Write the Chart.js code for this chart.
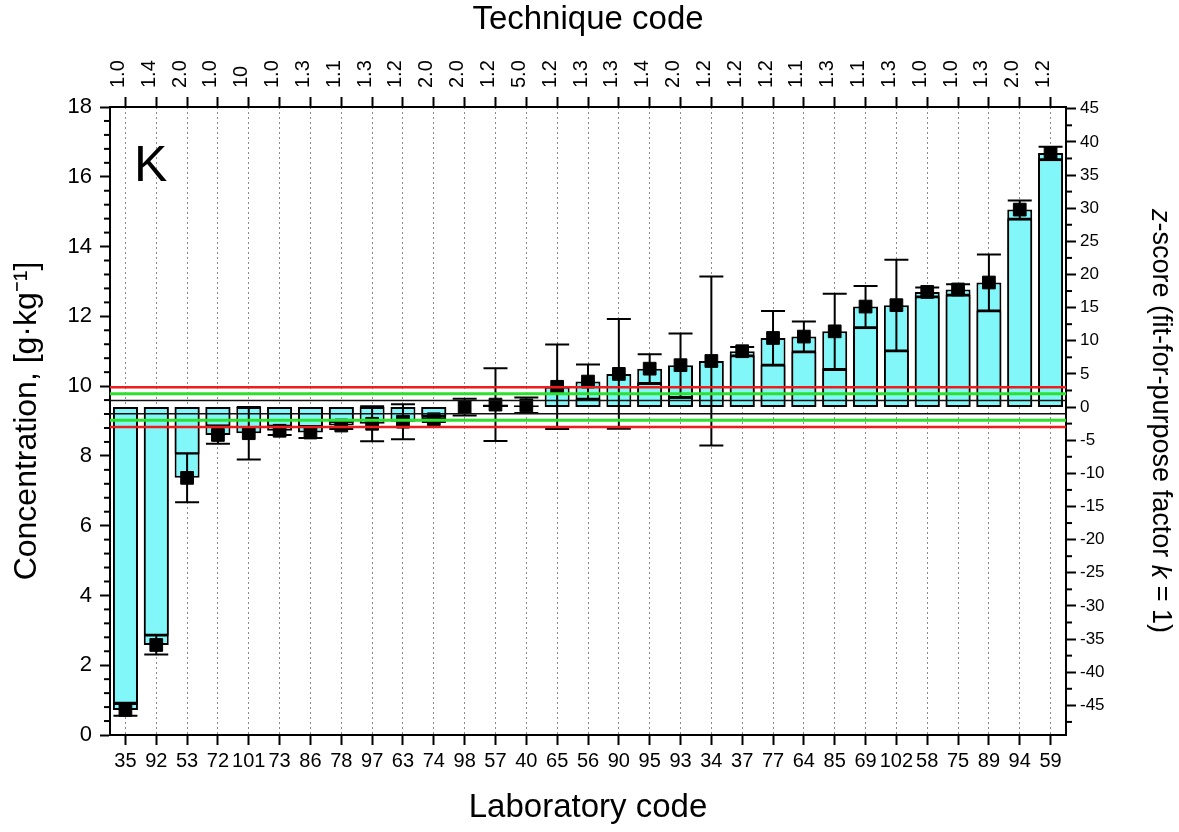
<!DOCTYPE html>
<html><head><meta charset="utf-8">
<script src="https://cdn.jsdelivr.net/npm/chart.js@4.4.1/dist/chart.umd.min.js"></script>
<style>html,body{margin:0;padding:0;background:#fff;}#wrap{width:1179px;height:832px;position:relative;}</style>
</head><body><div id="wrap"><canvas id="c" width="1179" height="832"></canvas></div>
<script>
const labCodes = ['35','92','53','72','101','73','86','78','97','63','74','98','57','40','65','56','90','95','93','34','37','77','64','85','69','102','58','75','89','94','59'];
const techniqueCodes = ['1.0','1.4','2.0','1.0','10','1.0','1.3','1.1','1.3','1.2','2.0','2.0','1.2','5.0','1.2','1.3','1.3','1.4','2.0','1.2','1.2','1.2','1.1','1.3','1.1','1.3','1.0','1.0','1.3','2.0','1.2'];
const labValues = [0.72,2.58,7.37,8.60,8.65,8.72,8.67,8.87,8.92,8.98,9.05,9.40,9.47,9.45,9.98,10.13,10.35,10.50,10.60,10.72,11.00,11.38,11.42,11.57,12.28,12.32,12.70,12.77,12.97,15.06,16.68];
const uncertainties = [0.17,0.27,0.70,0.25,0.75,0.12,0.16,0.10,0.50,0.50,0.08,0.24,1.04,0.22,1.21,0.49,1.57,0.41,0.91,2.42,0.12,0.77,0.43,1.08,0.59,1.30,0.13,0.15,0.80,0.26,0.18];
const innerBarEnds = [0.90,2.85,8.05,8.85,null,8.84,8.83,8.97,null,null,9.13,null,null,null,null,9.64,null,10.09,9.69,null,10.88,10.61,10.99,10.49,11.69,11.02,12.57,12.62,12.17,14.80,16.50];
const assignedValue = 9.40;
const sigmaP = 0.19;
const concTicks = [0,2,4,6,8,10,12,14,16,18];
const zTicks = [-45,-40,-35,-30,-25,-20,-15,-10,-5,0,5,10,15,20,25,30,35,40,45];
const zLines = [
  {z: 3, color: '#ee1c1c', width: 2.5},
  {z: 2, color: '#2ee02e', width: 3},
  {z: 1, color: '#111111', width: 1.5},
  {z: -1, color: '#111111', width: 1.5},
  {z: -2, color: '#2ee02e', width: 3},
  {z: -3, color: '#ee1c1c', width: 2.5}
];

const FONT = '"Liberation Sans", Arial, sans-serif';
Chart.defaults.font.family = FONT;
Chart.defaults.color = '#000';

const BAR_FILL = '#82f7f9';

const overlay = {
  id: 'overlay',
  afterDatasetsDraw(chart) {
    const {ctx, chartArea, scales} = chart;
    const x = scales.x, y = scales.y, y2 = scales.y2;
    ctx.save();
    ctx.strokeStyle = '#000';
    ctx.lineWidth = 2;
    labValues.forEach((v, i) => {
      const px = x.getPixelForValue(i);
      const yt = y.getPixelForValue(v + uncertainties[i]);
      const yb = y.getPixelForValue(v - uncertainties[i]);
      ctx.beginPath();
      ctx.moveTo(px, yt); ctx.lineTo(px, yb);
      ctx.moveTo(px - 12, yt); ctx.lineTo(px + 12, yt);
      ctx.moveTo(px - 12, yb); ctx.lineTo(px + 12, yb);
      ctx.stroke();
    });
    zLines.forEach(l => {
      const py = y2.getPixelForValue(l.z);
      ctx.strokeStyle = l.color;
      ctx.lineWidth = l.width;
      ctx.beginPath();
      ctx.moveTo(chartArea.left, py);
      ctx.lineTo(chartArea.right, py);
      ctx.stroke();
    });
    ctx.restore();
  },
  afterDraw(chart) {
    const {ctx, chartArea, scales} = chart;
    const y = scales.y, y2 = scales.y2;
    ctx.save();
    ctx.strokeStyle = '#000';
    ctx.lineWidth = 2;
    for (let k = 0; k <= 45; k++) {
      if (k % 5 === 0) continue;
      const py = y.getPixelForValue(k * 0.4);
      ctx.beginPath(); ctx.moveTo(chartArea.left - 6, py); ctx.lineTo(chartArea.left, py); ctx.stroke();
    }
    for (let k = -19; k <= 18; k++) {
      if (k % 2 === 0) continue;
      const zv = k * 2.5;
      if (zv < y2.min || zv > y2.max) continue;
      const py = y2.getPixelForValue(zv);
      ctx.beginPath(); ctx.moveTo(chartArea.right, py); ctx.lineTo(chartArea.right + 6, py); ctx.stroke();
    }
    ctx.fillStyle = '#000';
    ctx.font = '50px ' + FONT;
    ctx.textBaseline = 'alphabetic';
    ctx.textAlign = 'left';
    ctx.fillText('K', chartArea.left + 24, chartArea.top + 74);
    const segs = [['z', true], ['-score (fit-for-purpose factor ', false], ['k', true], [' = 1)', false]];
    const size = 27;
    let total = 0;
    segs.forEach(s => { ctx.font = (s[1] ? 'italic ' : '') + size + 'px ' + FONT; total += ctx.measureText(s[0]).width; });
    ctx.translate(1160, (chartArea.top + chartArea.bottom) / 2);
    ctx.rotate(Math.PI / 2);
    ctx.textBaseline = 'middle';
    let cx = -total / 2;
    segs.forEach(s => { ctx.font = (s[1] ? 'italic ' : '') + size + 'px ' + FONT; ctx.fillText(s[0], cx, 0); cx += ctx.measureText(s[0]).width; });
    ctx.restore();
  }
};

new Chart(document.getElementById('c'), {
  type: 'bar',
  data: {
    labels: labCodes,
    datasets: [
      {
        type: 'line',
        label: 'Laboratory result',
        data: labValues,
        showLine: false,
        pointStyle: 'rect',
        pointRadius: 9,
        pointBackgroundColor: '#000',
        pointBorderColor: '#000',
        pointBorderWidth: 1,
        order: 0,
        xAxisID: 'x', yAxisID: 'y'
      },
      {
        label: 'inner',
        data: innerBarEnds.map(v => v === null ? null : [assignedValue, v]),
        backgroundColor: BAR_FILL,
        borderColor: '#000',
        borderWidth: 2,
        borderSkipped: false,
        grouped: false,
        barPercentage: 0.81,
        categoryPercentage: 1.0,
        order: 1,
        xAxisID: 'x', yAxisID: 'y'
      },
      {
        label: 'outer',
        data: labValues.map(v => [assignedValue, v]),
        backgroundColor: BAR_FILL,
        borderColor: '#000',
        borderWidth: 2,
        borderSkipped: false,
        grouped: false,
        barPercentage: 0.81,
        categoryPercentage: 1.0,
        order: 2,
        xAxisID: 'x', yAxisID: 'y'
      }
    ]
  },
  options: {
    responsive: false,
    animation: false,
    events: [],
    layout: {padding: 0, autoPadding: false},
    plugins: {legend: {display: false}, tooltip: {enabled: false}},
    scales: {
      x: {
        type: 'category',
        position: 'bottom',
        offset: true,
        grid: {offset: false, color: '#8a8a8a', lineWidth: 1, tickLength: 10, tickColor: '#000', tickWidth: 2},
        border: {display: true, color: '#000', width: 2, dash: [2, 3]},
        ticks: {autoSkip: false, maxRotation: 0, minRotation: 0, padding: 4, font: {size: 20}, color: '#000'},
        title: {display: true, text: 'Laboratory code', font: {size: 33}, padding: {top: 0, bottom: 4}, color: '#000'},
        afterFit: s => { s.height = 97; }
      },
      x2: {
        type: 'category',
        position: 'top',
        labels: techniqueCodes,
        offset: true,
        grid: {offset: false, drawOnChartArea: false, tickLength: 10, tickColor: '#000', tickWidth: 2},
        border: {display: true, color: '#000', width: 2},
        ticks: {autoSkip: false, maxRotation: 90, minRotation: 90, padding: 9, labelOffset: 17, font: {size: 20}, color: '#000'},
        title: {display: true, text: 'Technique code', font: {size: 33}, padding: {top: 0, bottom: 0}, color: '#000'},
        afterFit: s => { s.height = 107; }
      },
      y: {
        type: 'linear',
        position: 'left',
        min: 0, max: 18,
        afterBuildTicks: s => { s.ticks = concTicks.map(v => ({value: v})); },
        grid: {drawOnChartArea: false, tickLength: 10, tickColor: '#000', tickWidth: 2},
        border: {display: true, color: '#000', width: 2},
        ticks: {padding: 8, font: {size: 22}, color: '#000'},
        title: {display: true, text: 'Concentration, [g·kg⁻¹]', font: {size: 32}, padding: {top: 8, bottom: 0}, color: '#000'},
        afterFit: s => { s.width = 110; }
      },
      y2: {
        type: 'linear',
        position: 'right',
        min: (0 - assignedValue) / sigmaP,
        max: (18 - assignedValue) / sigmaP,
        afterBuildTicks: s => { s.ticks = zTicks.map(v => ({value: v})); },
        grid: {drawOnChartArea: false, tickLength: 10, tickColor: '#000', tickWidth: 2},
        border: {display: true, color: '#000', width: 2},
        ticks: {padding: 4, font: {size: 17}, color: '#000', callback: v => String(v)},
        afterFit: s => { s.width = 113; }
      }
    }
  },
  plugins: [overlay]
});
</script>
</body></html>
